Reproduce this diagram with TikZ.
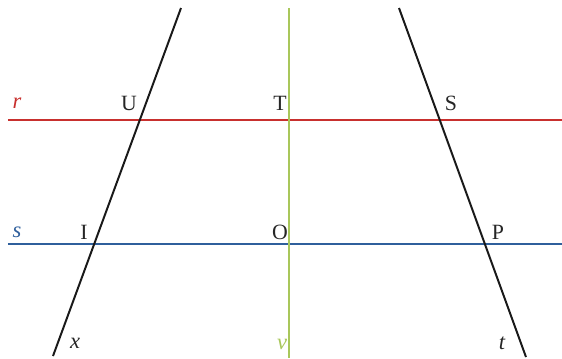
\documentclass[tikz,border=0pt]{standalone}
\usepackage{fontspec}
\setmainfont{Liberation Serif}
\usepackage{xcolor}
\usetikzlibrary{positioning, calc}
\definecolor{rettar}{HTML}{C8302E}
\definecolor{rettas}{HTML}{2F5F9C}
\definecolor{rettav}{HTML}{A9C75B}
\tikzset{
	% retta orizzontale
	retta/.style={line width=2pt},
	% trasversale
	trasv/.style={line width=1.4pt, black!90},
	% nome di un punto
	punto/.style={inner sep=0pt, font=\fontsize{15.5}{17}\selectfont, text=black!85},
	% nome di una retta
	nomeretta/.style={inner sep=0pt, font=\fontsize{16}{18}\selectfont\itshape},
}
\begin{document}
\begin{tikzpicture}[x=0.025cm, y=-0.025cm]
    \useasboundingbox (0,0) rectangle (562,358);
    \coordinate (r1) at (8,120);   \coordinate (r2) at (562,120);
    \coordinate (s1) at (8,244);   \coordinate (s2) at (562,244);
    \coordinate (v1) at (289,8);   \coordinate (v2) at (289,358);
    \coordinate (x1) at (181,8);   \coordinate (x2) at (53,356);
    \coordinate (t1) at (399,8);   \coordinate (t2) at (526,357);
    \draw[retta, rettar] (r1) -- (r2);
    \draw[retta, rettas] (s1) -- (s2);
    \draw[retta, rettav] (v1) -- (v2);
    \draw[trasv] (x1) -- (x2);
    \draw[trasv] (t1) -- (t2);
    \node[nomeretta, text=rettar] (nr) at (17,103) {r};
    \node[nomeretta, text=rettas] (ns) at (17,232) {s};
    \node[nomeretta, text=rettav] (nv) at (282,344) {v};
    \node[nomeretta, text=black!85] (nx) at (75,343) {x};
    \node[nomeretta, text=black!85] (nt) at (502,343) {t};
    \node[punto] (U) at (129,103) {U};
    \node[punto] (T) at (280,103) {T};
    \node[punto] (S) at (451,103) {S};
    \node[punto] (I) at (84,232) {I};
    \node[punto] (O) at (280,232) {O};
    \node[punto] (P) at (498,232) {P};
\end{tikzpicture}
\end{document}
